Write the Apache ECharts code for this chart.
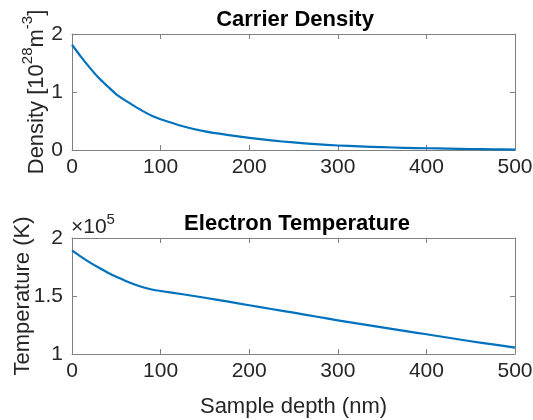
<!DOCTYPE html>
<html>
<head>
<meta charset="utf-8">
<title>Carrier Density / Electron Temperature</title>
<script src="https://cdn.jsdelivr.net/npm/echarts@6/dist/echarts.min.js"></script>
<style>
  html, body { margin: 0; padding: 0; background: #fff; }
  #chart { width: 533px; height: 420px; }
</style>
</head>
<body>
<div id="chart"></div>
<script>
// sample depth (nm)
var depth = [0, 10, 20, 30, 40, 50, 60, 70, 80, 90, 100, 125, 150, 175, 200, 225, 250, 275, 300, 325, 350, 375, 400, 425, 450, 475, 500];
// carrier density, 10^28 m^-3
var density = [1.815, 1.61, 1.42, 1.245, 1.10, 0.96, 0.855, 0.76, 0.67, 0.59, 0.53, 0.41, 0.32, 0.26, 0.21, 0.165, 0.13, 0.10, 0.078, 0.062, 0.048, 0.038, 0.03, 0.023, 0.017, 0.012, 0.008];
// electron temperature, K
var temperature = [189400, 184000, 179000, 174500, 170300, 166500, 163200, 160100, 157600, 155600, 154300, 151500, 148500, 145300, 142000, 138800, 135600, 132300, 129000, 126000, 123000, 120000, 117000, 114000, 111000, 108300, 105500];

function pairs(xs, ys) {
  var out = [];
  for (var i = 0; i < xs.length; i++) out.push([xs[i], ys[i]]);
  return out;
}

var axisCol = '#808080';
var textCol = '#262626';
var font = 'Liberation Sans, Arial, sans-serif';
var fs = 21;
var nfs = 22;

function xAx(grid, pos, labels, name) {
  return {
    type: 'value', gridIndex: grid, position: pos, min: 0, max: 500, interval: 100,
    axisLine: { show: true, onZero: false, lineStyle: { color: axisCol, width: 1 } },
    axisTick: { show: true, inside: true, length: 5, lineStyle: { color: axisCol } },
    axisLabel: { show: labels, color: textCol, fontSize: fs, fontFamily: font, margin: 7 },
    splitLine: { show: false },
    name: name || '', nameLocation: 'middle', nameGap: 42, nameMoveOverlap: false,
    nameTextStyle: { color: textCol, fontSize: nfs, fontFamily: font }
  };
}

function yAx(grid, pos, labels, min, max, step, fmt, name, nameGap, rich) {
  return {
    type: 'value', gridIndex: grid, position: pos, min: min, max: max, interval: step,
    axisLine: { show: true, onZero: false, lineStyle: { color: axisCol, width: 1 } },
    axisTick: { show: true, inside: true, length: 5, lineStyle: { color: axisCol } },
    axisLabel: { show: labels, color: textCol, fontSize: fs, fontFamily: font, margin: 9, formatter: fmt },
    splitLine: { show: false },
    name: name || '', nameLocation: 'middle', nameGap: nameGap || 0, nameRotate: 90,
    nameMoveOverlap: false,
    nameTextStyle: { color: textCol, fontSize: nfs, fontFamily: font, rich: rich }
  };
}

var supRich = {
  b: { fontSize: nfs, fontFamily: font, color: textCol, lineHeight: 28, verticalAlign: 'bottom' },
  s: { fontSize: 15, fontFamily: font, color: textCol, lineHeight: 28, verticalAlign: 'top' }
};

var chart = echarts.init(document.getElementById('chart'), null, { renderer: 'canvas' });
chart.setOption({
  animation: false,
  title: [
    { text: 'Carrier Density', left: 290, top: 4, textAlign: 'center',
      textStyle: { fontSize: 22, fontWeight: 'bold', color: '#000', fontFamily: font } },
    { text: 'Electron Temperature', left: 292, top: 208, textAlign: 'center',
      textStyle: { fontSize: 22, fontWeight: 'bold', color: '#000', fontFamily: font } }
  ],
  graphic: [
    { type: 'text', left: 71, top: 212,
      style: { text: '{b|×10}{s|5}', rich: {
        b: { fontSize: 21, fontFamily: font, fill: textCol, lineHeight: 26, verticalAlign: 'bottom' },
        s: { fontSize: 15, fontFamily: font, fill: textCol, lineHeight: 26, verticalAlign: 'top' }
      } } }
  ],
  grid: [
    { left: 72, right: 18, top: 34, height: 116, outerBoundsMode: 'none' },
    { left: 72, right: 18, top: 238, height: 116, outerBoundsMode: 'none' }
  ],
  xAxis: [
    xAx(0, 'bottom', true),
    xAx(0, 'top', false),
    xAx(1, 'bottom', true, 'Sample depth (nm)'),
    xAx(1, 'top', false)
  ],
  yAxis: [
    yAx(0, 'left', true, 0, 2, 1, null, '{b|Density [10}{s|28}{b|m}{s|-3}{b|]}', 24, supRich),
    yAx(0, 'right', false, 0, 2, 1),
    yAx(1, 'left', true, 100000, 200000, 50000, function (v) { return String(v / 1e5); },
      'Temperature (K)', 38),
    yAx(1, 'right', false, 100000, 200000, 50000)
  ],
  series: [
    { type: 'line', xAxisIndex: 0, yAxisIndex: 0, data: pairs(depth, density),
      smooth: 0.2, showSymbol: false, lineStyle: { color: '#0072BD', width: 2.2, join: 'round' } },
    { type: 'line', xAxisIndex: 2, yAxisIndex: 2, data: pairs(depth, temperature),
      smooth: 0.2, showSymbol: false, lineStyle: { color: '#0072BD', width: 2.2, join: 'round' } }
  ]
});
</script>
</body>
</html>
